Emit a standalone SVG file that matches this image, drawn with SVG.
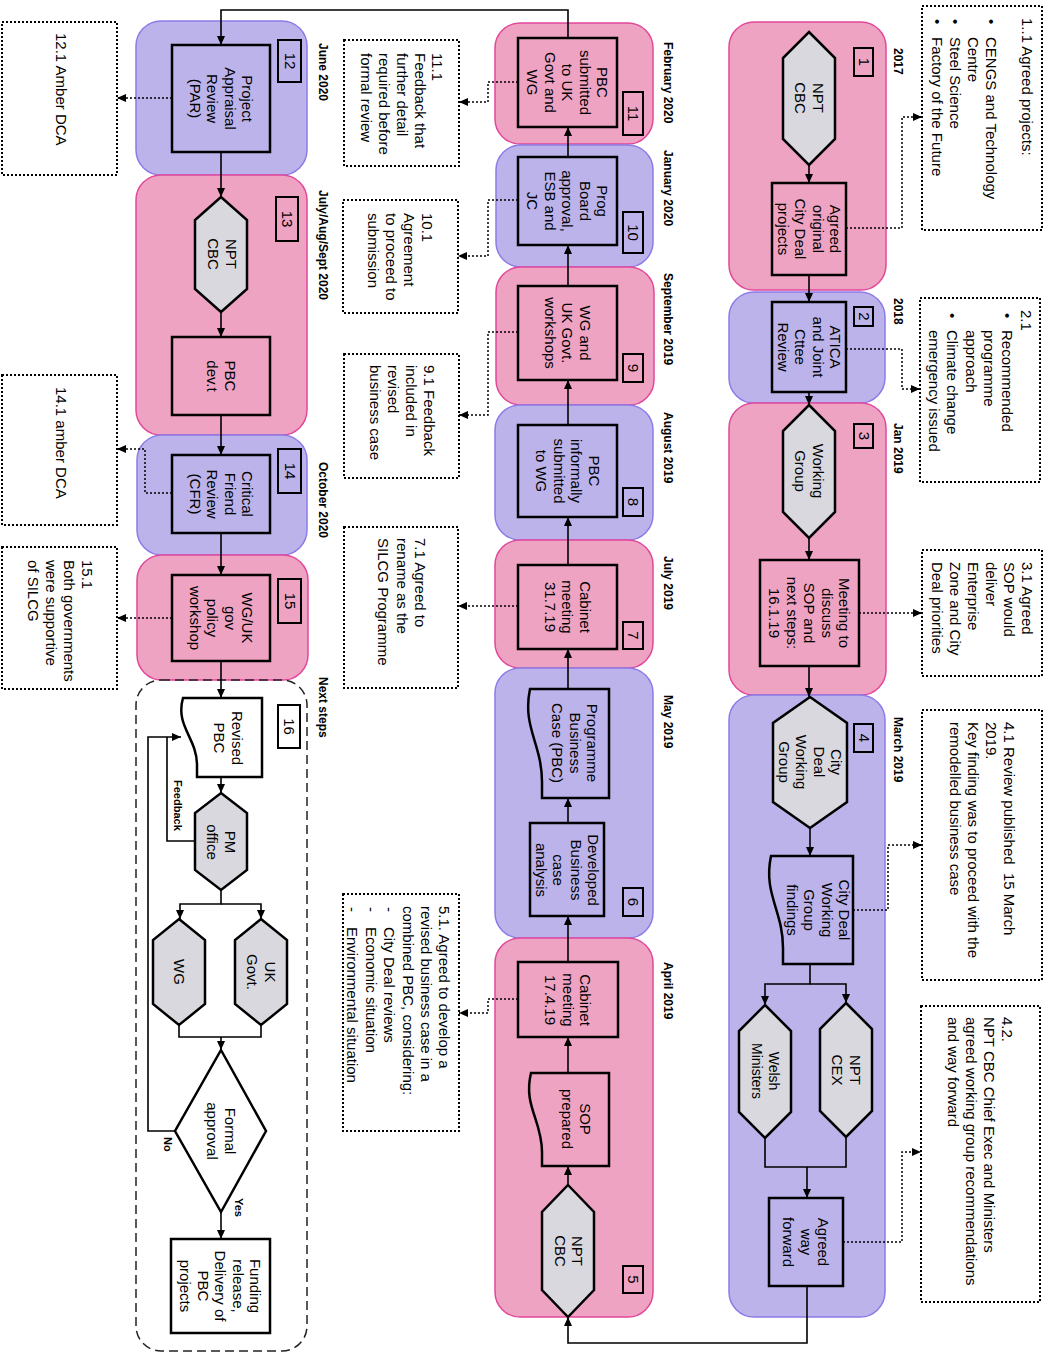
<svg xmlns="http://www.w3.org/2000/svg" width="1049" height="1353" viewBox="0 0 1049 1353">
<style>
  .lane-p { fill: #EFA3C2; stroke: #E2479A; stroke-width: 1.5; }
  .lane-v { fill: #BCB3EB; stroke: #8C7BE8; stroke-width: 1.5; }
  .lane-n { fill: none; stroke: #222; stroke-width: 1.5; stroke-dasharray: 9 5; }
  .box { fill: none; stroke: #000; stroke-width: 2.5; }
  .wbox { fill: #fff; stroke: #000; stroke-width: 2.5; }
  .hex { fill: #D9D8DE; stroke: #000; stroke-width: 2.5; }
  .num { fill: none; stroke: #000; stroke-width: 2; }
  .note { fill: none; stroke: #000; stroke-width: 2; stroke-dasharray: 2 2; }
  .flow { fill: none; stroke: #000; stroke-width: 1.6; }
  .dot { fill: none; stroke: #000; stroke-width: 1.5; stroke-dasharray: 2 2; }
  text { font-family: "Liberation Sans", Arial, sans-serif; fill: #000; }
  .t { font-size: 15px; text-anchor: middle; }
  .ts { font-size: 14px; text-anchor: middle; }
  .n { font-size: 15px; text-anchor: start; }
  .d { font-size: 12px; font-weight: bold; text-anchor: start; }
  .lb { font-size: 11px; font-weight: bold; text-anchor: start; }
</style>
<defs>
  <marker id="arrow" viewBox="0 0 9 8" refX="9" refY="4" markerWidth="9" markerHeight="8" markerUnits="userSpaceOnUse" orient="auto">
    <path d="M0,0 L9,4 L0,8 Z" fill="#000" stroke="none"/>
  </marker>
</defs>

<!-- period lanes -->
<g id="lanes">
  <rect class="lane-p" x="729" y="22" width="157" height="268" rx="25"/>
  <rect class="lane-v" x="729" y="292" width="156" height="111" rx="25"/>
  <rect class="lane-p" x="729" y="403" width="157" height="292" rx="25"/>
  <rect class="lane-v" x="729" y="695" width="156" height="622" rx="25"/>
  <rect class="lane-p" x="495" y="23" width="158" height="121" rx="25"/>
  <rect class="lane-v" x="496" y="145" width="157" height="122" rx="25"/>
  <rect class="lane-p" x="496" y="267" width="158" height="138" rx="25"/>
  <rect class="lane-v" x="495" y="405" width="158" height="135" rx="25"/>
  <rect class="lane-p" x="495" y="540" width="158" height="128" rx="25"/>
  <rect class="lane-v" x="495" y="668" width="158" height="270" rx="25"/>
  <rect class="lane-p" x="495" y="938" width="158" height="379" rx="25"/>
  <rect class="lane-v" x="136" y="21" width="171" height="154" rx="25"/>
  <rect class="lane-p" x="136" y="175" width="171" height="260" rx="25"/>
  <rect class="lane-v" x="137" y="435" width="170" height="120" rx="25"/>
  <rect class="lane-p" x="137" y="555" width="171" height="125" rx="25"/>
  <rect class="lane-n" x="136" y="680" width="171" height="671" rx="25"/>
</g>

<!-- period labels -->
<g id="dates">
  <text class="d" transform="translate(897.5,48) rotate(90)" y="4">2017</text>
  <text class="d" transform="translate(897.5,298) rotate(90)" y="4">2018</text>
  <text class="d" transform="translate(897.5,423) rotate(90)" y="4">Jan 2019</text>
  <text class="d" transform="translate(897.5,717) rotate(90)" y="4">March 2019</text>
  <text class="d" transform="translate(668,42) rotate(90)" y="4">February 2020</text>
  <text class="d" transform="translate(668,150) rotate(90)" y="4">January 2020</text>
  <text class="d" transform="translate(668,273) rotate(90)" y="4">September 2019</text>
  <text class="d" transform="translate(668,412) rotate(90)" y="4">August 2019</text>
  <text class="d" transform="translate(668,556) rotate(90)" y="4">July 2019</text>
  <text class="d" transform="translate(668,695) rotate(90)" y="4">May 2019</text>
  <text class="d" transform="translate(668,962) rotate(90)" y="4">April 2019</text>
  <text class="d" transform="translate(322.5,43) rotate(90)" y="4">June 2020</text>
  <text class="d" transform="translate(322.5,190) rotate(90)" y="4">July/Aug/Sept 2020</text>
  <text class="d" transform="translate(322.5,462) rotate(90)" y="4">October 2020</text>
  <text class="d" transform="translate(322.5,677) rotate(90)" y="4">Next steps</text>
</g>

<!-- connectors -->
<g id="connectors">
  <path class="flow" d="M809,165 V183" marker-end="url(#arrow)"/>
  <path class="flow" d="M809,275 V302" marker-end="url(#arrow)"/>
  <path class="flow" d="M809,392 V405" marker-end="url(#arrow)"/>
  <path class="flow" d="M809,538 V560" marker-end="url(#arrow)"/>
  <path class="flow" d="M809,666 V697" marker-end="url(#arrow)"/>
  <path class="flow" d="M810,828 V856" marker-end="url(#arrow)"/>
  <path class="flow" d="M810,964 V984 H765 V1005" marker-end="url(#arrow)"/>
  <path class="flow" d="M810,984 H846 V1003" marker-end="url(#arrow)"/>
  <path class="flow" d="M765,1138 V1167 H846 V1137"/>
  <path class="flow" d="M807,1167 V1198" marker-end="url(#arrow)"/>
  <path class="flow" d="M807,1286 V1343 H568 V1317" marker-end="url(#arrow)"/>
  <path class="flow" d="M568,1185 V1166" marker-end="url(#arrow)"/>
  <path class="flow" d="M568,1073 V1037" marker-end="url(#arrow)"/>
  <path class="flow" d="M568,962 V916" marker-end="url(#arrow)"/>
  <path class="flow" d="M568,823 V798" marker-end="url(#arrow)"/>
  <path class="flow" d="M568,689 V649" marker-end="url(#arrow)"/>
  <path class="flow" d="M568,565 V517" marker-end="url(#arrow)"/>
  <path class="flow" d="M568,425 V380" marker-end="url(#arrow)"/>
  <path class="flow" d="M568,286 V245" marker-end="url(#arrow)"/>
  <path class="flow" d="M568,157 V127" marker-end="url(#arrow)"/>
  <path class="flow" d="M568,38 V10 H221 V45" marker-end="url(#arrow)"/>
  <path class="flow" d="M221,152 V197" marker-end="url(#arrow)"/>
  <path class="flow" d="M221,312 V337" marker-end="url(#arrow)"/>
  <path class="flow" d="M221,415 V455" marker-end="url(#arrow)"/>
  <path class="flow" d="M221,533 V575" marker-end="url(#arrow)"/>
  <path class="flow" d="M221,661 V698" marker-end="url(#arrow)"/>
  <path class="flow" d="M221,777 V793" marker-end="url(#arrow)"/>
  <path class="flow" d="M221,890 V904 H180 V919" marker-end="url(#arrow)"/>
  <path class="flow" d="M221,904 H261 V919" marker-end="url(#arrow)"/>
  <path class="flow" d="M179,1025 V1037 H261 V1025"/>
  <path class="flow" d="M221,1037 V1050" marker-end="url(#arrow)"/>
  <path class="flow" d="M221,1212 V1239" marker-end="url(#arrow)"/>
  <path class="flow" d="M175,1131 H148 V737 H181" marker-end="url(#arrow)"/>
  <path class="flow" d="M195,841 H167 V737"/>

  <path class="dot" d="M846,228 H902 V117 H922" marker-end="url(#arrow)"/>
  <path class="dot" d="M846,349 H902 V389 H920" marker-end="url(#arrow)"/>
  <path class="dot" d="M859,613 H922" marker-end="url(#arrow)"/>
  <path class="dot" d="M853,910 H888 V845 H922" marker-end="url(#arrow)"/>
  <path class="dot" d="M843,1242 H902 V1152 H921" marker-end="url(#arrow)"/>
  <path class="dot" d="M518,82 H488 V102 H459" marker-end="url(#arrow)"/>
  <path class="dot" d="M518,200 H488 V256 H458" marker-end="url(#arrow)"/>
  <path class="dot" d="M518,332 H488 V415 H459" marker-end="url(#arrow)"/>
  <path class="dot" d="M518,606 H458" marker-end="url(#arrow)"/>
  <path class="dot" d="M518,999 H488 V1013 H459" marker-end="url(#arrow)"/>
  <path class="dot" d="M172,98 H117" marker-end="url(#arrow)"/>
  <path class="dot" d="M172,493 H145 V449 H117" marker-end="url(#arrow)"/>
  <path class="dot" d="M172,618 H117" marker-end="url(#arrow)"/>

  <text class="lb" transform="translate(178,780) rotate(90)" y="4">Feedback</text>
  <text class="lb" transform="translate(168,1137) rotate(90)" y="4">No</text>
  <text class="lb" transform="translate(239,1198) rotate(90)" y="4">Yes</text>
</g>

<!-- step numbers -->
<g id="step-numbers">
  <rect class="num" x="854" y="48" width="19" height="28"/><text class="t" transform="translate(863.5,62) rotate(90)" y="5">1</text>
  <rect class="num" x="854" y="307" width="19" height="19"/><text class="t" transform="translate(863.5,316.5) rotate(90)" y="5">2</text>
  <rect class="num" x="854" y="424" width="19" height="24"/><text class="t" transform="translate(863.5,436) rotate(90)" y="5">3</text>
  <rect class="num" x="854" y="724" width="19" height="28"/><text class="t" transform="translate(863.5,738) rotate(90)" y="5">4</text>
  <rect class="num" x="623" y="1266" width="20" height="27"/><text class="t" transform="translate(633,1279.5) rotate(90)" y="5">5</text>
  <rect class="num" x="623" y="888" width="20" height="28"/><text class="t" transform="translate(633,902) rotate(90)" y="5">6</text>
  <rect class="num" x="623" y="622" width="20" height="27"/><text class="t" transform="translate(633,635.5) rotate(90)" y="5">7</text>
  <rect class="num" x="623" y="488" width="20" height="28"/><text class="t" transform="translate(633,502) rotate(90)" y="5">8</text>
  <rect class="num" x="623" y="354" width="20" height="28"/><text class="t" transform="translate(633,368) rotate(90)" y="5">9</text>
  <rect class="num" x="623" y="212" width="20" height="41"/><text class="t" transform="translate(633,232.5) rotate(90)" y="5">10</text>
  <rect class="num" x="623" y="92" width="20" height="43"/><text class="t" transform="translate(633,113.5) rotate(90)" y="5">11</text>
  <rect class="num" x="278" y="40" width="23" height="42"/><text class="t" transform="translate(289.5,61) rotate(90)" y="5">12</text>
  <rect class="num" x="276" y="197" width="22" height="44"/><text class="t" transform="translate(287,219) rotate(90)" y="5">13</text>
  <rect class="num" x="278" y="449" width="23" height="44"/><text class="t" transform="translate(289.5,471) rotate(90)" y="5">14</text>
  <rect class="num" x="278" y="579" width="23" height="44"/><text class="t" transform="translate(289.5,601) rotate(90)" y="5">15</text>
  <rect class="num" x="278" y="705" width="22" height="43"/><text class="t" transform="translate(289,726.5) rotate(90)" y="5">16</text>
</g>

<!-- 2017 - March 2019 -->
<g id="npt-cbc-1">
  <polygon class="hex" points="809,32 835,58 835,139 809,165 783,139 783,58"/>
  <text class="t" transform="translate(809,98) rotate(90)"><tspan x="0" y="-3.5">NPT</tspan><tspan x="0" dy="17.5">CBC</tspan></text>
</g>
<g id="agreed-projects">
  <rect class="box" x="772" y="183" width="74" height="92"/>
  <text class="t" transform="translate(809,229) rotate(90)"><tspan x="0" y="-21">Agreed</tspan><tspan x="0" dy="17.5">original</tspan><tspan x="0" dy="17.5">City Deal</tspan><tspan x="0" dy="17.5">projects</tspan></text>
</g>
<g id="atica-review">
  <rect class="box" x="772" y="302" width="74" height="90"/>
  <text class="t" transform="translate(809,347) rotate(90)"><tspan x="0" y="-21">ATICA</tspan><tspan x="0" dy="17.5">and Joint</tspan><tspan x="0" dy="17.5">Cttee</tspan><tspan x="0" dy="17.5">Review</tspan></text>
</g>
<g id="working-group">
  <polygon class="hex" points="809,405 835,431 835,512 809,538 783,512 783,431"/>
  <text class="t" transform="translate(809,471) rotate(90)"><tspan x="0" y="-3.5">Working</tspan><tspan x="0" dy="17.5">Group</tspan></text>
</g>
<g id="meeting-sop">
  <rect class="box" x="760" y="560" width="99" height="106"/>
  <text class="t" transform="translate(809.5,613) rotate(90)"><tspan x="0" y="-29.8">Meeting to</tspan><tspan x="0" dy="17.5">discuss</tspan><tspan x="0" dy="17.5">SOP and</tspan><tspan x="0" dy="17.5">next steps:</tspan><tspan x="0" dy="17.5">16.1.19</tspan></text>
</g>
<g id="city-deal-wg">
  <polygon class="hex" points="810,697 847,723 847,802 810,828 773,802 773,723"/>
  <text class="t" transform="translate(810,762) rotate(90)"><tspan x="0" y="-21">City</tspan><tspan x="0" dy="17.5">Deal</tspan><tspan x="0" dy="17.5">Working</tspan><tspan x="0" dy="17.5">Group</tspan></text>
</g>
<g id="wg-findings">
  <path class="box" d="M853,856 H771 C763,894 783,910 783,948 V964 H853 Z"/>
  <text class="t" transform="translate(818,910) rotate(90)"><tspan x="0" y="-21">City Deal</tspan><tspan x="0" dy="17.5">Working</tspan><tspan x="0" dy="17.5">Group</tspan><tspan x="0" dy="17.5">findings</tspan></text>
</g>
<g id="npt-cex">
  <polygon class="hex" points="846,1003 872,1029 872,1111 846,1137 820,1111 820,1029"/>
  <text class="t" transform="translate(846,1070) rotate(90)"><tspan x="0" y="-3.5">NPT</tspan><tspan x="0" dy="17.5">CEX</tspan></text>
</g>
<g id="welsh-ministers">
  <polygon class="hex" points="765,1005 791,1031 791,1112 765,1138 739,1112 739,1031"/>
  <text class="ts" transform="translate(765,1071) rotate(90)"><tspan x="0" y="-3.5">Welsh</tspan><tspan x="0" dy="16.5">Ministers</tspan></text>
</g>
<g id="agreed-way-forward">
  <rect class="box" x="769" y="1198" width="74" height="88"/>
  <text class="t" transform="translate(806,1242) rotate(90)"><tspan x="0" y="-12.3">Agreed</tspan><tspan x="0" dy="17.5">way</tspan><tspan x="0" dy="17.5">forward</tspan></text>
</g>

<!-- April 2019 - February 2020 -->
<g id="npt-cbc-5">
  <polygon class="hex" points="568,1185 594,1212 594,1290 568,1317 542,1290 542,1212"/>
  <text class="t" transform="translate(568.5,1251) rotate(90)"><tspan x="0" y="-3.5">NPT</tspan><tspan x="0" dy="17.5">CBC</tspan></text>
</g>
<g id="sop-prepared">
  <path class="box" d="M609,1073 H531 C523,1106 542,1120 542,1152 V1166 H609 Z"/>
  <text class="t" transform="translate(576,1119) rotate(90)"><tspan x="0" y="-3.5">SOP</tspan><tspan x="0" dy="17.5">prepared</tspan></text>
</g>
<g id="cabinet-17-4-19">
  <rect class="box" x="518" y="962" width="100" height="75"/>
  <text class="t" transform="translate(568,1000) rotate(90)"><tspan x="0" y="-12.3">Cabinet</tspan><tspan x="0" dy="17.5">meeting</tspan><tspan x="0" dy="17.5">17.4.19</tspan></text>
</g>
<g id="business-case-analysis">
  <rect class="box" x="530" y="823" width="74" height="93"/>
  <text class="t" transform="translate(567,870) rotate(90)"><tspan x="0" y="-21">Developed</tspan><tspan x="0" dy="17.5">Business</tspan><tspan x="0" dy="17.5">case</tspan><tspan x="0" dy="17.5">analysis</tspan></text>
</g>
<g id="programme-business-case">
  <path class="box" d="M609,689 H530 C522,727 542,744 542,782 V798 H609 Z"/>
  <text class="t" transform="translate(575,743) rotate(90)"><tspan x="0" y="-12.3">Programme</tspan><tspan x="0" dy="17.5">Business</tspan><tspan x="0" dy="17.5">Case (PBC)</tspan></text>
</g>
<g id="cabinet-31-7-19">
  <rect class="box" x="518" y="565" width="99" height="84"/>
  <text class="t" transform="translate(567.5,607) rotate(90)"><tspan x="0" y="-12.3">Cabinet</tspan><tspan x="0" dy="17.5">meeting</tspan><tspan x="0" dy="17.5">31.7.19</tspan></text>
</g>
<g id="pbc-informal">
  <rect class="box" x="518" y="425" width="99" height="92"/>
  <text class="t" transform="translate(567.5,471) rotate(90)"><tspan x="0" y="-21">PBC</tspan><tspan x="0" dy="17.5">informally</tspan><tspan x="0" dy="17.5">submitted</tspan><tspan x="0" dy="17.5">to WG</tspan></text>
</g>
<g id="workshops">
  <rect class="box" x="518" y="286" width="99" height="94"/>
  <text class="t" transform="translate(567.5,333) rotate(90)"><tspan x="0" y="-12.3">WG and</tspan><tspan x="0" dy="17.5">UK Govt.</tspan><tspan x="0" dy="17.5">workshops</tspan></text>
</g>
<g id="prog-board">
  <rect class="box" x="518" y="157" width="99" height="88"/>
  <text class="t" transform="translate(567.5,201) rotate(90)"><tspan x="0" y="-29.8">Prog</tspan><tspan x="0" dy="17.5">Board</tspan><tspan x="0" dy="17.5">approval,</tspan><tspan x="0" dy="17.5">ESB and</tspan><tspan x="0" dy="17.5">JC</tspan></text>
</g>
<g id="pbc-submitted">
  <rect class="box" x="518" y="38" width="99" height="89"/>
  <text class="t" transform="translate(567.5,82.5) rotate(90)"><tspan x="0" y="-29.8">PBC</tspan><tspan x="0" dy="17.5">submitted</tspan><tspan x="0" dy="17.5">to UK</tspan><tspan x="0" dy="17.5">Govt and</tspan><tspan x="0" dy="17.5">WG</tspan></text>
</g>

<!-- June 2020 onwards -->
<g id="par">
  <rect class="box" x="172" y="45" width="98" height="107"/>
  <text class="t" transform="translate(221,98.5) rotate(90)"><tspan x="0" y="-21">Project</tspan><tspan x="0" dy="17.5">Appraisal</tspan><tspan x="0" dy="17.5">Review</tspan><tspan x="0" dy="17.5">(PAR)</tspan></text>
</g>
<g id="npt-cbc-13">
  <polygon class="hex" points="221,197 247,220 247,289 221,312 195,289 195,220"/>
  <text class="t" transform="translate(222,254) rotate(90)"><tspan x="0" y="-3.5">NPT</tspan><tspan x="0" dy="17.5">CBC</tspan></text>
</g>
<g id="pbc-dev">
  <rect class="box" x="172" y="337" width="98" height="78"/>
  <text class="t" transform="translate(221,376) rotate(90)"><tspan x="0" y="-3.5">PBC</tspan><tspan x="0" dy="17.5">dev.t</tspan></text>
</g>
<g id="cfr">
  <rect class="box" x="172" y="455" width="98" height="78"/>
  <text class="t" transform="translate(221,494) rotate(90)"><tspan x="0" y="-21">Critical</tspan><tspan x="0" dy="17.5">Friend</tspan><tspan x="0" dy="17.5">Review</tspan><tspan x="0" dy="17.5">(CFR)</tspan></text>
</g>
<g id="policy-workshop">
  <rect class="box" x="172" y="575" width="98" height="86"/>
  <text class="t" transform="translate(221,618) rotate(90)"><tspan x="0" y="-21">WG/UK</tspan><tspan x="0" dy="17.5">gov</tspan><tspan x="0" dy="17.5">policy</tspan><tspan x="0" dy="17.5">workshop</tspan></text>
</g>
<g id="revised-pbc">
  <path class="wbox" d="M262,698 H183 C175,726 197,738 197,765 V777 H262 Z"/>
  <text class="t" transform="translate(228,738) rotate(90)"><tspan x="0" y="-3.5">Revised</tspan><tspan x="0" dy="17.5">PBC</tspan></text>
</g>
<g id="pm-office">
  <polygon class="hex" points="221,793 247,813 247,870 221,890 195,870 195,813"/>
  <text class="t" transform="translate(221,842) rotate(90)"><tspan x="0" y="-3.5">PM</tspan><tspan x="0" dy="17.5">office</tspan></text>
</g>
<g id="uk-govt">
  <polygon class="hex" points="261,919 287,940 287,1004 261,1025 235,1004 235,940"/>
  <text class="t" transform="translate(261,972) rotate(90)"><tspan x="0" y="-3.5">UK</tspan><tspan x="0" dy="17.5">Govt.</tspan></text>
</g>
<g id="wg">
  <polygon class="hex" points="179,919 205,940 205,1004 179,1025 153,1004 153,940"/>
  <text class="t" transform="translate(179,972) rotate(90)" y="5">WG</text>
</g>
<g id="formal-approval">
  <polygon class="wbox" points="221,1050 266,1131 221,1212 175,1131"/>
  <text class="t" transform="translate(221,1131) rotate(90)"><tspan x="0" y="-3.5">Formal</tspan><tspan x="0" dy="17.5">approval</tspan></text>
</g>
<g id="funding-release">
  <rect class="wbox" x="171" y="1239" width="99" height="94"/>
  <text class="t" transform="translate(220.5,1286) rotate(90)"><tspan x="0" y="-29.8">Funding</tspan><tspan x="0" dy="17.5">release,</tspan><tspan x="0" dy="17.5">Delivery of</tspan><tspan x="0" dy="17.5">PBC</tspan><tspan x="0" dy="17.5">projects</tspan></text>
</g>

<!-- outcome notes -->
<g id="note-1-1">
  <rect class="note" x="922" y="6" width="120" height="224"/>
  <text class="n" transform="translate(1033,18) rotate(90)">
    <tspan x="0" y="10.7">1..1 Agreed projects:</tspan>
    <tspan x="1" y="46.7">•</tspan><tspan x="19" y="46.7">CENGS and Technology</tspan>
    <tspan x="19" y="64.7">Centre</tspan>
    <tspan x="1" y="82.7">•</tspan><tspan x="19" y="82.7">Steel Science</tspan>
    <tspan x="1" y="100.7">•</tspan><tspan x="19" y="100.7">Factory of the Future</tspan>
  </text>
</g>
<g id="note-2-1">
  <rect class="note" x="920" y="298" width="120" height="184"/>
  <text class="n" transform="translate(1032,310) rotate(90)">
    <tspan x="0" y="10.7">2.1</tspan>
    <tspan x="3" y="29.7">•</tspan><tspan x="20" y="29.7">Recommended</tspan>
    <tspan x="20" y="48">programme</tspan>
    <tspan x="20" y="66.3">approach</tspan>
    <tspan x="3" y="84.7">•</tspan><tspan x="20" y="84.7">Climate change</tspan>
    <tspan x="20" y="102.7">emergency issued</tspan>
  </text>
</g>
<g id="note-3-1">
  <rect class="note" x="922" y="550" width="120" height="126"/>
  <text class="n" transform="translate(1033,562) rotate(90)">
    <tspan x="0" y="10.7">3.1 Agreed</tspan>
    <tspan x="0" y="28.7">SOP would</tspan>
    <tspan x="0" y="46.7">deliver</tspan>
    <tspan x="0" y="64.7">Enterprise</tspan>
    <tspan x="0" y="82.7">Zone and City</tspan>
    <tspan x="0" y="100.7">Deal priorities</tspan>
  </text>
</g>
<g id="note-4-1">
  <rect class="note" x="922" y="710" width="120" height="270"/>
  <text class="n" transform="translate(1015,722) rotate(90)">
    <tspan x="0" y="10.7">4.1 Review published&#160; 15 March</tspan>
    <tspan x="0" y="28.7">2019.</tspan>
    <tspan x="0" y="46.7">Key finding was to proceed with the</tspan>
    <tspan x="0" y="64.7">remodelled business case</tspan>
  </text>
</g>
<g id="note-4-2">
  <rect class="note" x="921" y="1006" width="119" height="296"/>
  <text class="n" transform="translate(1013,1017) rotate(90)">
    <tspan x="0" y="10.7">4.2.</tspan>
    <tspan x="0" y="28.7">NPT CBC Chief Exec and Ministers</tspan>
    <tspan x="0" y="46.7">agreed working group recommendations</tspan>
    <tspan x="0" y="64.7">and way forward</tspan>
  </text>
</g>
<g id="note-11-1">
  <rect class="note" x="344" y="40" width="115" height="126"/>
  <text class="n" transform="translate(443,53) rotate(90)">
    <tspan x="0" y="10.7">11.1</tspan>
    <tspan x="0" y="28.5">Feedback that</tspan>
    <tspan x="0" y="46.3">further detail</tspan>
    <tspan x="0" y="64.1">required before</tspan>
    <tspan x="0" y="81.9">formal review</tspan>
  </text>
</g>
<g id="note-10-1">
  <rect class="note" x="343" y="200" width="115" height="113"/>
  <text class="n" transform="translate(433,213) rotate(90)">
    <tspan x="0" y="10.7">10.1</tspan>
    <tspan x="0" y="28.7">Agreement</tspan>
    <tspan x="0" y="46.7">to proceed to</tspan>
    <tspan x="0" y="64.7">submission</tspan>
  </text>
</g>
<g id="note-9-1">
  <rect class="note" x="344" y="354" width="115" height="124"/>
  <text class="n" transform="translate(435,365) rotate(90)">
    <tspan x="0" y="10.7">9.1 Feedback</tspan>
    <tspan x="0" y="28.7">included in</tspan>
    <tspan x="0" y="46.7">revised</tspan>
    <tspan x="0" y="64.7">business case</tspan>
  </text>
</g>
<g id="note-7-1">
  <rect class="note" x="344" y="527" width="114" height="161"/>
  <text class="n" transform="translate(426,538) rotate(90)">
    <tspan x="0" y="10.7">7.1 Agreed to</tspan>
    <tspan x="0" y="29.2">rename as the</tspan>
    <tspan x="0" y="47.7">SILCG Programme</tspan>
  </text>
</g>
<g id="note-5-1">
  <rect class="note" x="343" y="894" width="116" height="237"/>
  <text class="n" transform="translate(450,906) rotate(90)">
    <tspan x="0" y="10.7">5.1. Agreed to develop a</tspan>
    <tspan x="0" y="29.1">revised business case in a</tspan>
    <tspan x="0" y="47.5">combined PBC, considering:</tspan>
    <tspan x="1" y="65.9">-</tspan><tspan x="21" y="65.9">City Deal reviews</tspan>
    <tspan x="1" y="84.3">-</tspan><tspan x="21" y="84.3">Economic situation</tspan>
    <tspan x="1" y="102.7">-</tspan><tspan x="21" y="102.7">Environmental situation</tspan>
  </text>
</g>
<g id="note-12-1">
  <rect class="note" x="2" y="22" width="115" height="153"/>
  <text class="n" transform="translate(67,33) rotate(90)" y="10.7">12.1 Amber DCA</text>
</g>
<g id="note-14-1">
  <rect class="note" x="2" y="375" width="115" height="150"/>
  <text class="n" transform="translate(67,387) rotate(90)" y="10.7">14.1 amber DCA</text>
</g>
<g id="note-15-1">
  <rect class="note" x="2" y="547" width="115" height="142"/>
  <text class="n" transform="translate(93,560) rotate(90)">
    <tspan x="0" y="10.7">15.1</tspan>
    <tspan x="0" y="28.7">Both governments</tspan>
    <tspan x="0" y="46.7">were supportive</tspan>
    <tspan x="0" y="64.7">of SILCG</tspan>
  </text>
</g>
</svg>
